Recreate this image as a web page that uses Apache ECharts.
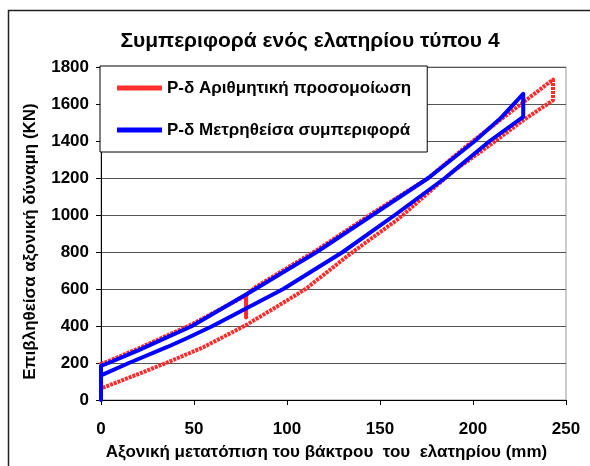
<!DOCTYPE html>
<html><head><meta charset="utf-8">
<script src="https://cdn.jsdelivr.net/npm/echarts@6/dist/echarts.min.js"></script>
<style>html,body{margin:0;padding:0;background:#fff}#c{width:590px;height:466px}</style>
</head><body><div id="c"></div>
<script>
const titleText = 'Συμπεριφορά ενός ελατηρίου τύπου 4';
const xAxisName = 'Αξονική μετατόπιση του βάκτρου  του  ελατηρίου (mm)';
const yAxisName = 'Επιβληθείσα αξονική δύναμη (KN)';
const seriesNames = ['P-δ Αριθμητική προσομοίωση', 'P-δ Μετρηθείσα συμπεριφορά'];
const xTicks = [0, 50, 100, 150, 200, 250];
const yTicks = [0, 200, 400, 600, 800, 1000, 1200, 1400, 1600, 1800];

// Numerical simulation loop (red)
const redX = [0, 0, 4, 20, 49, 78, 78, 78, 83, 116, 146, 176, 198, 220, 243, 243, 227, 209, 189, 160, 134, 110, 101, 78, 55, 35, 20, 2, 0, 0];
const redY = [0, 195, 210, 278, 410, 565, 446, 565, 610, 810, 1010, 1200, 1385, 1555, 1732, 1620, 1512, 1377, 1234, 980, 790, 600, 544, 405, 285, 200, 140, 70, 65, 0];

// Measured loop (blue)
const blueX = [0, 0, 4, 20, 49, 83, 116, 146, 176, 201, 215, 227, 227, 209, 185, 158, 130, 98, 60, 47, 36, 15, 0, 0];
const blueY = [0, 185, 200, 268, 400, 600, 800, 1000, 1200, 1400, 1525, 1655, 1530, 1400, 1200, 1000, 800, 600, 400, 338, 288, 200, 133, 0];

const pairs = (xs, ys) => xs.map((x, i) => [x, ys[i]]);
const FONT = 'Liberation Sans, Arial, sans-serif';

const chart = echarts.init(document.getElementById('c'), null, {renderer: 'canvas'});
chart.setOption({
  backgroundColor: '#fff',
  animation: false,
  title: {
    text: titleText, left: 305, top: 26, textAlign: 'center',
    textStyle: {fontFamily: FONT, fontWeight: 'bold', fontSize: 21, color: '#000'}
  },
  graphic: [{
    type: 'rect', silent: true, z: 0,
    shape: {x: 8.5, y: 10.5, width: 620, height: 520},
    style: {fill: 'none', stroke: '#222', lineWidth: 1.5}
  }],
  legend: {
    orient: 'vertical', left: 100, top: 66,
    padding: [12, 16, 12, 17], itemGap: 22,
    itemWidth: 45, itemHeight: 5,
    backgroundColor: '#fff', borderColor: '#000', borderWidth: 1,
    textStyle: {fontFamily: FONT, fontWeight: 'bold', fontSize: 17, color: '#000', lineHeight: 20},
    data: [
      {name: seriesNames[0], icon: 'rect', itemStyle: {color: '#ff3030'}},
      {name: seriesNames[1], icon: 'rect', itemStyle: {color: '#0000ff'}}
    ]
  },
  grid: {
    left: 101, top: 67, right: 24, bottom: 63,
    show: true, borderColor: '#999', borderWidth: 1, backgroundColor: 'transparent'
  },
  xAxis: {
    type: 'value', min: xTicks[0], max: xTicks[xTicks.length - 1], interval: 50,
    name: xAxisName, nameLocation: 'middle', nameGap: 44,
    nameTextStyle: {fontFamily: FONT, fontWeight: 'bold', fontSize: 17, color: '#000', padding: [0, 14, 0, 0]},
    axisLine: {show: true, onZero: false, lineStyle: {color: '#000', width: 1}},
    axisTick: {show: true, inside: false, length: 5, lineStyle: {color: '#000'}},
    axisLabel: {margin: 21, fontFamily: FONT, fontWeight: 'bold', fontSize: 17, color: '#000',
      formatter: v => String(v)},
    splitLine: {show: false}
  },
  yAxis: {
    type: 'value', min: yTicks[0], max: yTicks[yTicks.length - 1], interval: 200,
    name: yAxisName, nameLocation: 'middle', nameGap: 62, nameRotate: 90,
    nameTextStyle: {fontFamily: FONT, fontWeight: 'bold', fontSize: 17, color: '#000', padding: [0, 16, 0, 0]},
    axisLine: {show: true, onZero: false, lineStyle: {color: '#000', width: 1}},
    axisTick: {show: true, inside: false, length: 5, lineStyle: {color: '#000'}},
    axisLabel: {margin: 12, fontFamily: FONT, fontWeight: 'bold', fontSize: 17, color: '#000',
      formatter: v => String(v)},
    splitLine: {show: true, lineStyle: {color: '#555', width: 1}}
  },
  series: [
    {
      name: seriesNames[0], type: 'line', data: pairs(redX, redY),
      symbol: 'none', showSymbol: false, z: 2,
      lineStyle: {color: '#ff2a2a', width: 4, type: [3, 1], cap: 'butt', join: 'round'},
      itemStyle: {color: '#ff2a2a'}
    },
    {
      name: seriesNames[1], type: 'line', data: pairs(blueX, blueY),
      symbol: 'none', showSymbol: false, z: 3,
      lineStyle: {color: '#0000ff', width: 4, cap: 'round', join: 'round'},
      itemStyle: {color: '#0000ff'}
    }
  ]
});
</script></body></html>
